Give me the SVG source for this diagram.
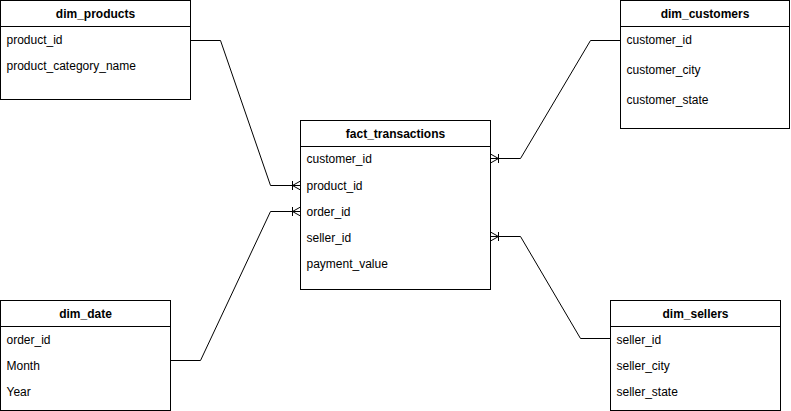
<svg xmlns="http://www.w3.org/2000/svg" width="791" height="411" viewBox="0 0 791 411">
  <style>
    .box { fill: #ffffff; stroke: #000000; stroke-width: 1; }
    .sep { stroke: #000000; stroke-width: 1; }
    .title { font-family: "Liberation Sans", Arial, sans-serif; font-size: 12px; font-weight: bold; fill: #000000; text-anchor: middle; }
    .field { font-family: "Liberation Sans", Arial, sans-serif; font-size: 12px; fill: #000000; }
    .edge { fill: none; stroke: #000000; stroke-width: 1; }
  </style>
  <defs>
    <!-- one-or-many crow's foot, tip at the table border -->
    <marker id="oneToMany" markerUnits="userSpaceOnUse" markerWidth="12" markerHeight="12" viewBox="-10 -6 12 12" refX="0" refY="0" orient="auto" overflow="visible">
      <path d="M-8,0 L0,-4.5 M-8,0 L0,4.5 M-8,-4.5 L-8,4.5" fill="none" stroke="#000000" stroke-width="1"/>
    </marker>
  </defs>

  <rect width="791" height="411" fill="#ffffff"/>

  <g id="connectors">
    <path class="edge" d="M190.5,40.5 L220.5,40.5 L270.5,185.5 L300.5,185.5" marker-end="url(#oneToMany)"/>
    <path class="edge" d="M170.5,360.5 L200.5,360.5 L270.5,211.5 L300.5,211.5" marker-end="url(#oneToMany)"/>
    <path class="edge" d="M620.5,40.5 L590.5,40.5 L520.5,158.5 L490.5,158.5" marker-end="url(#oneToMany)"/>
    <path class="edge" d="M610.5,338.5 L580.5,338.5 L520.5,236.5 L490.5,236.5" marker-end="url(#oneToMany)"/>
  </g>

  <g id="dim_products">
    <rect class="box" x="0.5" y="0.5" width="190" height="99"/>
    <line class="sep" x1="0.5" y1="26.5" x2="190.5" y2="26.5"/>
    <text class="title" x="95.5" y="17.5">dim_products</text>
    <text class="field" x="6.5" y="43.5">product_id</text>
    <text class="field" x="6.5" y="69.5">product_category_name</text>
  </g>

  <g id="dim_customers">
    <rect class="box" x="620.5" y="0.5" width="169" height="128"/>
    <line class="sep" x1="620.5" y1="26.5" x2="789.5" y2="26.5"/>
    <text class="title" x="705" y="17.5">dim_customers</text>
    <text class="field" x="626.5" y="43.5">customer_id</text>
    <text class="field" x="626.5" y="73.5">customer_city</text>
    <text class="field" x="626.5" y="103.5">customer_state</text>
  </g>

  <g id="fact_transactions">
    <rect class="box" x="300.5" y="120.5" width="190" height="169"/>
    <line class="sep" x1="300.5" y1="146.5" x2="490.5" y2="146.5"/>
    <text class="title" x="395.5" y="137.5">fact_transactions</text>
    <text class="field" x="306.5" y="163">customer_id</text>
    <text class="field" x="306.5" y="189.5">product_id</text>
    <text class="field" x="306.5" y="215.5">order_id</text>
    <text class="field" x="306.5" y="241.5">seller_id</text>
    <text class="field" x="306.5" y="267.5">payment_value</text>
  </g>

  <g id="dim_date">
    <rect class="box" x="0.5" y="300.5" width="170" height="110"/>
    <line class="sep" x1="0.5" y1="326.5" x2="170.5" y2="326.5"/>
    <text class="title" x="85.5" y="317.5">dim_date</text>
    <text class="field" x="6.5" y="343.5">order_id</text>
    <text class="field" x="6.5" y="369.5">Month</text>
    <text class="field" x="6.5" y="395.5">Year</text>
  </g>

  <g id="dim_sellers">
    <rect class="box" x="610.5" y="300.5" width="170" height="110"/>
    <line class="sep" x1="610.5" y1="326.5" x2="780.5" y2="326.5"/>
    <text class="title" x="695.5" y="317.5">dim_sellers</text>
    <text class="field" x="616.5" y="343.5">seller_id</text>
    <text class="field" x="616.5" y="369.5">seller_city</text>
    <text class="field" x="616.5" y="395.5">seller_state</text>
  </g>
</svg>
